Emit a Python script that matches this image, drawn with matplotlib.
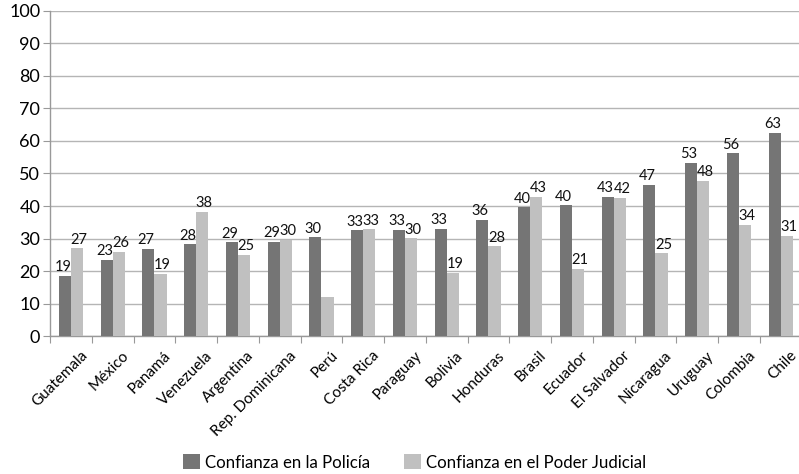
import numpy as np
import matplotlib.pyplot as plt

# Datos
paises = ["Guatemala", "México", "Panamá", "Venezuela", "Argentina", "Rep. Dominicana",
          "Perú", "Costa Rica", "Paraguay", "Bolivia", "Honduras", "Brasil", "Ecuador",
          "El Salvador", "Nicaragua", "Uruguay", "Colombia", "Chile"]
policia = [18.6, 23.4, 26.8, 28.2, 28.8, 28.9, 30.4, 32.5, 32.6, 32.9, 35.7, 39.6,
           40.2, 42.8, 46.6, 53.2, 56.2, 62.6]
judicial = [27.0, 25.9, 19.2, 38.3, 24.9, 29.6, 12.1, 32.8, 30.1, 19.4, 27.6, 42.9,
            20.7, 42.5, 25.4, 47.7, 34.2, 30.8]
etiq_policia = ["19", "23", "27", "28", "29", "29", "30", "33", "33", "33", "36", "40",
                "40", "43", "47", "53", "56", "63"]
etiq_judicial = ["27", "26", "19", "38", "25", "30", "", "33", "30", "19", "28", "43",
                 "21", "42", "25", "48", "34", "31"]

plt.rcParams["font.family"] = "Lato"

fig = plt.figure(figsize=(7.99, 4.74), dpi=100)
ax = fig.add_axes([0.0626, 0.291, 0.9406, 0.686])

x = np.arange(len(paises))
w = 0.29
c_pol = "#757575"
c_jud = "#c0c0c0"
ax.bar(x - w / 2, policia, w, color=c_pol, label="Confianza en la Policía", zorder=3)
ax.bar(x + w / 2, judicial, w, color=c_jud, label="Confianza en el Poder Judicial", zorder=3)

# Etiquetas de valores
for i in range(len(paises)):
    if etiq_policia[i]:
        ax.text(x[i] - w / 2 - 0.05, policia[i] + 0.5, etiq_policia[i], ha="center",
                va="bottom", fontsize=10.5, color="#111111")
    if etiq_judicial[i]:
        ax.text(x[i] + w / 2 + 0.05, judicial[i] + 0.5, etiq_judicial[i], ha="center",
                va="bottom", fontsize=10.5, color="#111111")

ax.set_xlim(-0.5, len(paises) - 0.5)
ax.set_ylim(0, 100)
ax.set_yticks(range(0, 101, 10))
ax.tick_params(axis="y", length=5, color="#999999", labelsize=13, pad=2)
ax.grid(axis="y", color="#b5b5b5", linewidth=1, zorder=0)

# Ticks entre categorías
ax.set_xticks(np.arange(-0.5, len(paises), 1), minor=False)
ax.set_xticklabels([])
ax.set_xticks(x + 0.22, minor=True)
ax.set_xticklabels(paises, minor=True, rotation=45, ha="right", rotation_mode="anchor",
                   fontsize=11)
ax.tick_params(axis="x", which="major", length=5, color="#999999", direction="out")
ax.tick_params(axis="x", which="minor", length=0, pad=9)

for s in ["top", "right"]:
    ax.spines[s].set_visible(False)
for s in ["left", "bottom"]:
    ax.spines[s].set_color("#999999")
    ax.spines[s].set_linewidth(1)

fig.legend(loc="lower center", ncol=2, frameon=False, fontsize=12.1,
           bbox_to_anchor=(0.519, -0.025), handlelength=1.0, handleheight=1.0,
           columnspacing=2.0, handletextpad=0.3)

plt.savefig("out.png", dpi=100)
